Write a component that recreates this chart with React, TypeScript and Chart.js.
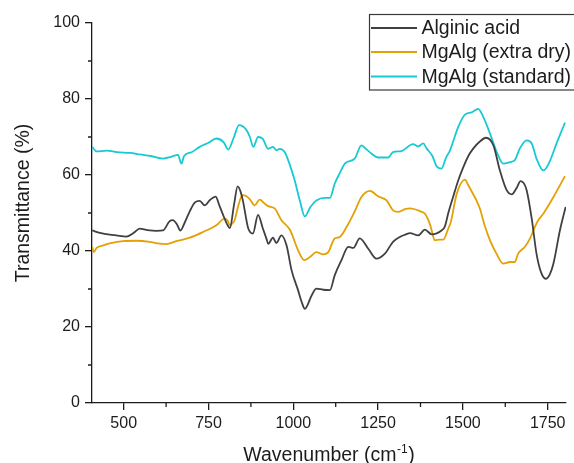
import { useEffect, useRef } from "react";
import { Chart, registerables } from "chart.js";

Chart.register(...registerables);

// Wavenumber (cm-1) / transmittance (%) readings for each sample
const alginicWn = [407, 430, 459, 478, 508, 530, 547, 570, 597, 616, 635, 645, 657, 667, 680, 695, 710, 724, 739, 755, 771, 782, 793, 805, 813, 825, 836, 845, 852, 860, 867, 881, 896, 910, 921, 926, 940, 950, 965, 980, 995, 1014, 1025, 1034, 1054, 1068, 1088, 1108, 1122, 1142, 1162, 1177, 1196, 1221, 1245, 1270, 1294, 1314, 1330, 1344, 1368, 1388, 1408, 1437, 1447, 1457, 1472, 1486, 1501, 1516, 1531, 1550, 1568, 1590, 1609, 1629, 1644, 1658, 1670, 1680, 1688, 1703, 1717, 1730, 1744, 1756, 1767, 1786, 1803];
const alginicT = [45.4, 44.8, 44.3, 44.1, 43.8, 44.8, 45.9, 45.5, 45.3, 45.4, 47.8, 48.1, 47.0, 45.4, 47.5, 50.5, 52.8, 53.2, 52.0, 53.5, 54.3, 52.0, 49.5, 47.0, 46.0, 52.0, 57.0, 55.5, 53.0, 49.0, 46.0, 44.6, 49.5, 46.0, 43.2, 41.9, 43.5, 42.1, 44.1, 41.5, 34.9, 29.7, 26.5, 24.8, 28.3, 30.1, 29.8, 29.7, 33.6, 37.6, 41.1, 40.8, 43.3, 40.6, 38.0, 39.3, 42.4, 43.7, 44.3, 44.7, 44.1, 45.6, 44.4, 45.4, 46.5, 50.0, 54.5, 58.5, 62.0, 65.0, 67.0, 68.8, 69.8, 67.8, 61.2, 56.0, 54.9, 56.5, 58.4, 57.8, 56.0, 48.5, 39.3, 34.5, 32.7, 33.8, 36.7, 45.4, 51.6];

const extraDryWn = [407, 412, 420, 440, 459, 498, 537, 577, 600, 626, 655, 695, 734, 773, 798, 806, 813, 820, 827, 838, 850, 862, 872, 886, 901, 915, 926, 945, 965, 990, 1014, 1032, 1049, 1068, 1088, 1103, 1122, 1137, 1157, 1181, 1201, 1226, 1250, 1275, 1294, 1309, 1329, 1344, 1373, 1388, 1403, 1408, 1417, 1432, 1442, 1457, 1464, 1482, 1506, 1516, 1530, 1540, 1550, 1565, 1580, 1599, 1619, 1639, 1653, 1663, 1683, 1698, 1712, 1722, 1737, 1767, 1801];
const extraDryT = [41.1, 39.7, 40.8, 41.5, 42.0, 42.6, 42.7, 42.4, 42.0, 41.8, 42.6, 43.5, 45.0, 46.8, 48.5, 48.0, 46.8, 47.2, 48.1, 52.0, 54.7, 54.4, 53.6, 52.0, 53.5, 52.5, 51.8, 51.2, 48.1, 45.6, 40.2, 37.6, 38.4, 39.7, 39.1, 39.7, 43.3, 43.7, 46.3, 50.4, 54.2, 55.8, 54.4, 53.3, 50.7, 50.3, 51.0, 51.2, 50.5, 49.8, 47.0, 45.4, 42.8, 43.0, 43.0, 45.9, 47.5, 55.1, 58.8, 57.3, 55.0, 53.3, 51.2, 46.5, 42.8, 39.3, 36.7, 37.1, 37.1, 39.3, 41.1, 43.3, 46.3, 48.1, 49.8, 54.2, 59.7];

const standardWn = [407, 420, 450, 480, 520, 547, 580, 616, 640, 660, 670, 678, 700, 724, 750, 773, 795, 808, 825, 840, 862, 872, 882, 896, 910, 926, 940, 950, 960, 975, 990, 1004, 1020, 1034, 1050, 1068, 1093, 1108, 1122, 1137, 1152, 1181, 1201, 1215, 1231, 1250, 1280, 1294, 1319, 1353, 1368, 1383, 1393, 1410, 1422, 1437, 1450, 1462, 1486, 1506, 1526, 1545, 1560, 1580, 1600, 1619, 1639, 1653, 1668, 1688, 1703, 1717, 1737, 1752, 1777, 1801];
const standardT = [67.4, 66.2, 66.4, 66.0, 65.8, 65.4, 65.0, 64.3, 64.8, 65.3, 63.0, 65.0, 66.0, 67.4, 68.5, 69.6, 68.6, 66.7, 70.0, 73.1, 71.8, 70.0, 67.4, 70.0, 69.5, 66.9, 67.4, 66.5, 66.9, 66.0, 62.6, 58.6, 53.0, 49.1, 51.5, 53.3, 54.0, 54.0, 57.7, 60.5, 63.0, 64.3, 67.8, 66.8, 65.6, 64.6, 64.6, 66.0, 66.3, 68.1, 67.5, 68.3, 67.0, 65.0, 62.4, 61.7, 64.5, 66.5, 72.6, 75.9, 76.5, 77.4, 75.3, 70.9, 66.0, 63.0, 63.4, 63.9, 67.0, 69.1, 68.3, 64.3, 61.2, 62.8, 68.5, 73.8];

const seriesNames = ["Alginic acid", "MgAlg (extra dry)", "MgAlg (standard)"];
const seriesColors = ["#404040", "#e3a105", "#17cad2"];

const xRange = [406.5, 1804];
const yRange = [0, 100];
const xMajorTicks = [500, 750, 1000, 1250, 1500, 1750];
const xMinorTicks = [625, 875, 1125, 1375, 1625];
const yMajorTicks = [0, 20, 40, 60, 80, 100];
const yMinorTicks = [10, 30, 50, 70, 90];

const FONT = "'Liberation Sans', Arial, sans-serif";
const INK = "#1c1c1c";

const pairs = (xs: number[], ys: number[]) => xs.map((x, i) => ({ x, y: ys[i] }));

const decorations = {
  id: "decorations",
  afterDraw(chart: any) {
    const { ctx, chartArea, scales } = chart;
    const xs = scales.x;
    const ys = scales.y;
    ctx.save();

    // minor tick marks
    ctx.strokeStyle = INK;
    ctx.lineWidth = 1.3;
    ctx.beginPath();
    for (const v of xMinorTicks) {
      const px = xs.getPixelForValue(v);
      ctx.moveTo(px, chartArea.bottom);
      ctx.lineTo(px, chartArea.bottom + 4);
    }
    for (const v of yMinorTicks) {
      const py = ys.getPixelForValue(v);
      ctx.moveTo(chartArea.left, py);
      ctx.lineTo(chartArea.left - 4, py);
    }
    ctx.stroke();

    // x axis title with superscript
    ctx.fillStyle = INK;
    ctx.textBaseline = "alphabetic";
    ctx.textAlign = "left";
    const big = `19.5px ${FONT}`;
    const small = `12px ${FONT}`;
    const partA = "Wavenumber (cm";
    const sup = "-1";
    const partB = ")";
    ctx.font = big;
    const wA = ctx.measureText(partA).width;
    const wB = ctx.measureText(partB).width;
    ctx.font = small;
    const wS = ctx.measureText(sup).width;
    const total = wA + wS + wB + 1;
    let tx = (chartArea.left + chartArea.right) / 2 - total / 2;
    const base = 461;
    ctx.font = big;
    ctx.fillText(partA, tx, base);
    tx += wA + 0.5;
    ctx.font = small;
    ctx.fillText(sup, tx, base - 8);
    tx += wS + 0.5;
    ctx.font = big;
    ctx.fillText(partB, tx, base);

    // y axis title
    ctx.save();
    ctx.translate(24, 203);
    ctx.rotate(-Math.PI / 2);
    ctx.textAlign = "center";
    ctx.textBaseline = "middle";
    ctx.font = big;
    ctx.fillText("Transmittance (%)", 0, 0);
    ctx.restore();

    // legend box
    const boxL = 369.5;
    const boxT = 14.5;
    const boxB = 90;
    ctx.fillStyle = "#ffffff";
    ctx.fillRect(boxL, boxT, 210, boxB - boxT);
    ctx.strokeStyle = "#3a3a3a";
    ctx.lineWidth = 1.2;
    ctx.strokeRect(boxL, boxT, 210, boxB - boxT);
    const rows = [28, 52, 76.5];
    ctx.font = big;
    ctx.textAlign = "left";
    ctx.textBaseline = "middle";
    seriesNames.forEach((name, i) => {
      ctx.strokeStyle = seriesColors[i];
      ctx.lineWidth = 1.8;
      ctx.beginPath();
      ctx.moveTo(371, rows[i]);
      ctx.lineTo(417, rows[i]);
      ctx.stroke();
      ctx.fillStyle = INK;
      ctx.fillText(name, 421.5, rows[i] + 1);
    });

    ctx.restore();
  },
};

export default function App() {
  const canvasRef = useRef<HTMLCanvasElement | null>(null);

  useEffect(() => {
    document.body.style.margin = "0";
    const canvas = canvasRef.current;
    if (!canvas) return;

    const seriesData = [
      pairs(alginicWn, alginicT),
      pairs(extraDryWn, extraDryT),
      pairs(standardWn, standardT),
    ];

    const chart = new Chart(canvas, {
      type: "line",
      data: {
        datasets: seriesNames.map((name, i) => ({
          label: name,
          data: seriesData[i],
          borderColor: seriesColors[i],
          backgroundColor: seriesColors[i],
          borderWidth: 1.8,
          pointRadius: 0,
          tension: 0.35,
          cubicInterpolationMode: "monotone" as const,
          fill: false,
        })),
      },
      options: {
        responsive: false,
        animation: false,
        devicePixelRatio: 1,
        layout: { padding: { top: 23, right: 8, left: 0, bottom: 0 } },
        plugins: {
          legend: { display: false },
          tooltip: { enabled: false },
        },
        scales: {
          x: {
            type: "linear",
            min: xRange[0],
            max: xRange[1],
            afterBuildTicks: (scale: any) => {
              scale.ticks = xMajorTicks.map((value) => ({ value }));
            },
            afterFit: (scale: any) => {
              scale.height = 60;
            },
            grid: { drawOnChartArea: false, tickLength: 7, color: INK, lineWidth: 1.3 },
            border: { display: true, color: INK, width: 1.3 },
            ticks: {
              color: INK,
              font: { family: FONT, size: 16 },
              padding: 4,
              maxRotation: 0,
              autoSkip: false,
              callback: (v: any) => String(v),
            },
          },
          y: {
            type: "linear",
            min: yRange[0],
            max: yRange[1],
            afterBuildTicks: (scale: any) => {
              scale.ticks = yMajorTicks.map((value) => ({ value }));
            },
            afterFit: (scale: any) => {
              scale.width = 92;
            },
            grid: { drawOnChartArea: false, tickLength: 7, color: INK, lineWidth: 1.3 },
            border: { display: true, color: INK, width: 1.3 },
            ticks: {
              color: INK,
              font: { family: FONT, size: 16 },
              padding: 5,
              autoSkip: false,
              callback: (v: any) => String(v),
            },
          },
        },
      },
      plugins: [decorations],
    });

    return () => chart.destroy();
  }, []);

  return (
    <div style={{ position: "absolute", left: 0, top: 0, width: 574, height: 463, background: "#fff" }}>
      <canvas ref={canvasRef} width={574} height={463} />
    </div>
  );
}
